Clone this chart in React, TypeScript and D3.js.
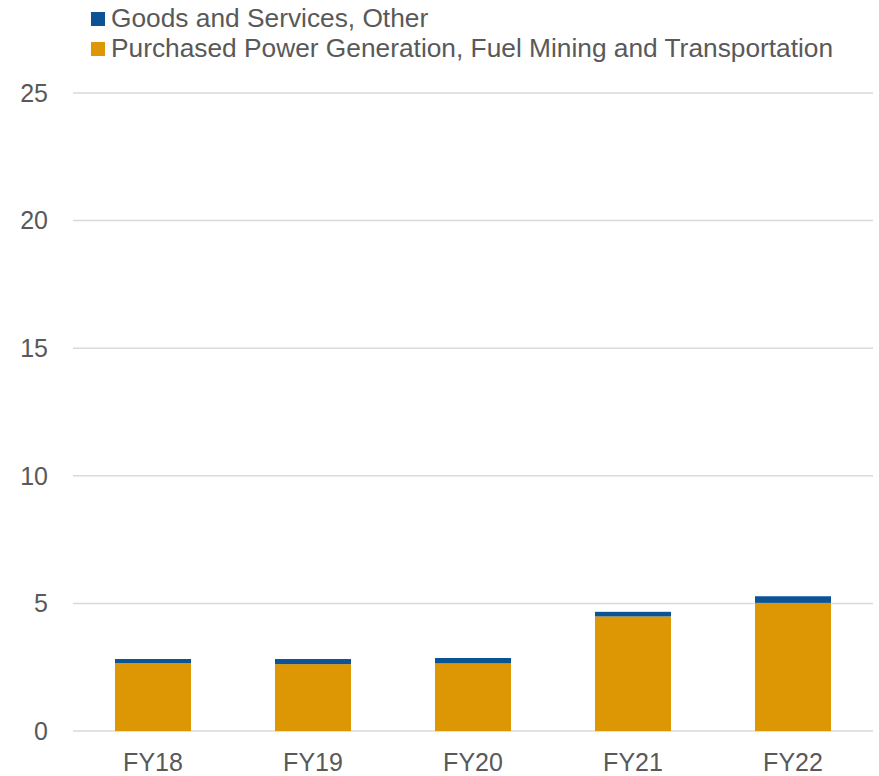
import React, { useEffect, useRef } from 'react';
import * as d3 from 'd3';

const categories = ['FY18', 'FY19', 'FY20', 'FY21', 'FY22'];
const purchasedPower = [2.66, 2.62, 2.65, 4.49, 5.02];
const goodsServices = [0.16, 0.2, 0.21, 0.18, 0.26];
const yTicks = [0, 5, 10, 15, 20, 25];

const seriesNames = [
  'Goods and Services, Other',
  'Purchased Power Generation, Fuel Mining and Transportation',
];
const seriesColors = ['#0b5394', '#dd9704'];

const App: React.FC = () => {
  const svgRef = useRef<SVGSVGElement>(null);
  const width = 879;
  const height = 776;

  useEffect(() => {
    if (!svgRef.current) return;
    const svg = d3.select(svgRef.current);
    svg.selectAll('*').remove();

    const margin = { top: 93, right: 6, bottom: 45, left: 73 };
    const innerWidth = width - margin.left - margin.right;
    const innerHeight = height - margin.top - margin.bottom;
    const font = '"Liberation Sans", Arial, sans-serif';
    const textColor = '#595959';

    const g = svg
      .append('g')
      .attr('transform', `translate(${margin.left},${margin.top})`);

    const xScale = d3
      .scaleBand()
      .domain(categories)
      .range([0, innerWidth])
      .paddingInner(0.525)
      .paddingOuter(0.2625);

    const yScale = d3.scaleLinear().domain([0, 25]).range([innerHeight, 0]);

    // Gridlines
    g.selectAll('.grid')
      .data(yTicks)
      .enter()
      .append('line')
      .attr('x1', 0)
      .attr('x2', innerWidth)
      .attr('y1', d => yScale(d))
      .attr('y2', d => yScale(d))
      .attr('stroke', '#d9d9d9')
      .attr('stroke-width', 1.5);

    // Y labels
    g.selectAll('.ylab')
      .data(yTicks)
      .enter()
      .append('text')
      .attr('x', -25)
      .attr('y', d => yScale(d))
      .attr('dy', '0.35em')
      .attr('text-anchor', 'end')
      .style('font-family', font)
      .style('font-size', '25px')
      .attr('fill', textColor)
      .text(d => d);

    const stackData = categories.map((c, i) => ({
      cat: c,
      power: purchasedPower[i],
      goods: goodsServices[i],
    }));
    const stack = d3.stack<any>().keys(['power', 'goods'])(stackData);
    const colorFor: Record<string, string> = {
      power: seriesColors[1],
      goods: seriesColors[0],
    };

    stack.forEach(layer => {
      g.selectAll(`.bar-${layer.key}`)
        .data(layer)
        .enter()
        .append('rect')
        .attr('x', d => xScale(d.data.cat) || 0)
        .attr('width', xScale.bandwidth())
        .attr('y', d => yScale(d[1]))
        .attr('height', d => yScale(d[0]) - yScale(d[1]))
        .attr('fill', colorFor[layer.key]);
    });

    // X labels
    g.selectAll('.xlab')
      .data(categories)
      .enter()
      .append('text')
      .attr('x', d => (xScale(d) || 0) + xScale.bandwidth() / 2)
      .attr('y', innerHeight + 40)
      .attr('text-anchor', 'middle')
      .style('font-family', font)
      .style('font-size', '25px')
      .attr('fill', textColor)
      .text(d => d);

    // Legend
    const legend = svg.append('g');
    seriesNames.forEach((name, i) => {
      const y = 12 + i * 30;
      legend
        .append('rect')
        .attr('x', 91)
        .attr('y', y)
        .attr('width', 14)
        .attr('height', 14)
        .attr('fill', seriesColors[i]);
      legend
        .append('text')
        .attr('x', 111)
        .attr('y', y + 15)
        .style('font-family', font)
        .style('font-size', '26.3px')
        .attr('fill', textColor)
        .text(name);
    });
  }, []);

  return (
    <svg
      ref={svgRef}
      width={width}
      height={height}
      style={{ display: 'block', position: 'absolute', left: 0, top: 0 }}
    />
  );
};

export default App;
